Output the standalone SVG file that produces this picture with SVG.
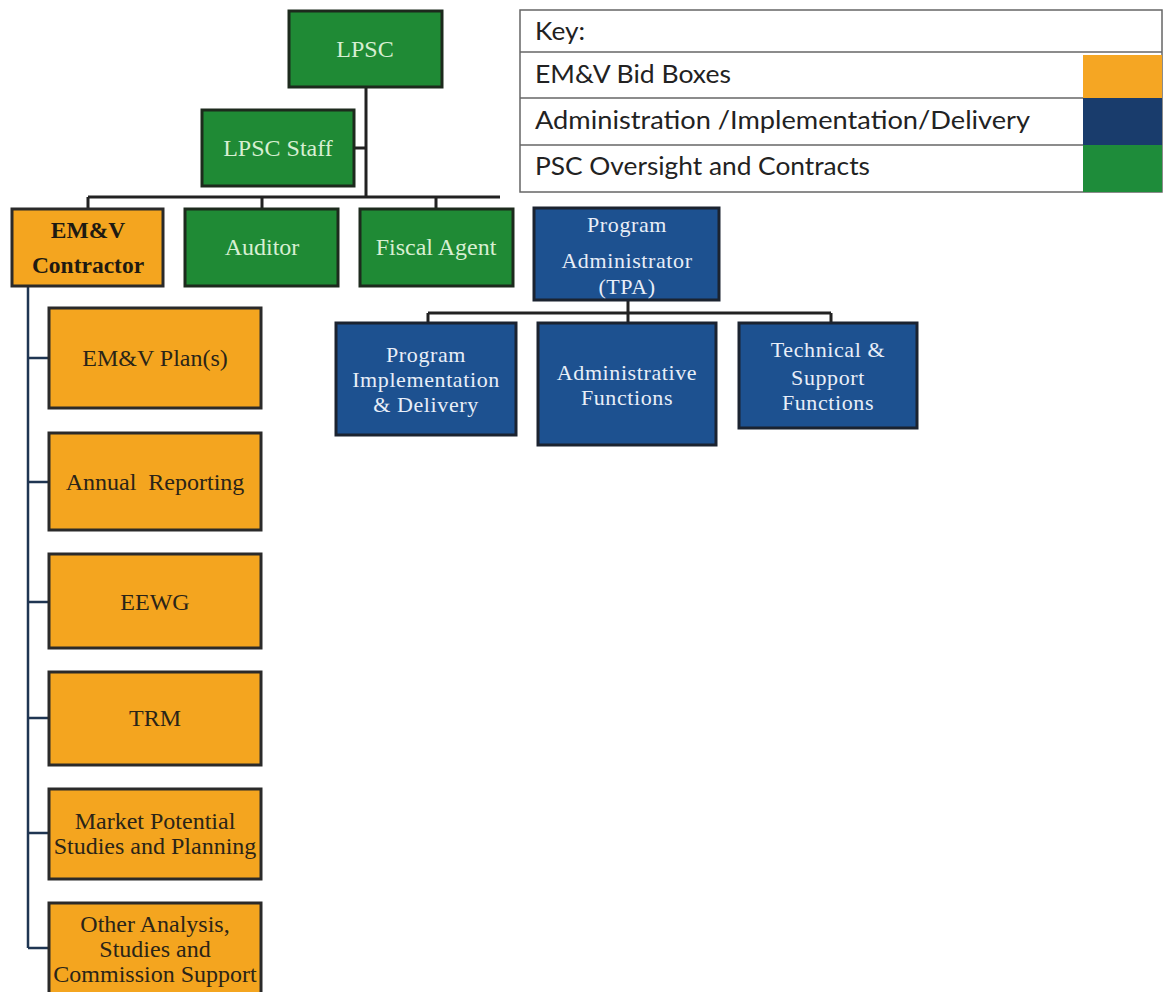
<svg xmlns="http://www.w3.org/2000/svg" width="1169" height="992" viewBox="0 0 1169 992">
<style>
.g{fill:#1f8a35;stroke:#1d2a1d;stroke-width:3}
.o{fill:#f4a51f;stroke:#2a2a2a;stroke-width:3}
.b{fill:#1d5190;stroke:#1b2330;stroke-width:3}
.tg{font-family:"Liberation Serif",serif;font-size:24px;fill:#d7efd2;text-anchor:middle}
.tb{font-family:"Liberation Serif",serif;font-size:22px;fill:#e8eef8;text-anchor:middle;letter-spacing:0.6px}
.to{font-family:"Liberation Serif",serif;font-size:24px;fill:#2a2418;text-anchor:middle}
.tob{font-family:"Liberation Serif",serif;font-size:23.5px;font-weight:bold;fill:#1e1a12;text-anchor:middle}
.k{font-family:Lato,"Open Sans",sans-serif;font-size:25px;fill:#222}
.kr{fill:#fff;stroke:#666;stroke-width:1.5}
.c{fill:none;stroke:#222;stroke-width:3}
.cl{fill:none;stroke:#1f3552;stroke-width:2.5}
</style>
<rect width="1169" height="992" fill="#fff"/>
<g id="connectors">
<path class="c" d="M366 87V197M354 148H366M88 197H500M88 197V209M262 197V209M436 197V209"/>
<path class="c" d="M628 300V313M428 313H831M428 313V323M628 313V323M831 313V323"/>
<path class="cl" d="M28 286V948M28 358H49M28 482H49M28 602H49M28 718H49M28 833H49M28 948H49"/>
</g>
<g id="key">
<rect class="kr" x="520" y="10" width="642" height="182"/>
<line x1="520" y1="52" x2="1162" y2="52" stroke="#666" stroke-width="1.5"/>
<line x1="520" y1="98" x2="1083" y2="98" stroke="#666" stroke-width="1.5"/>
<line x1="520" y1="145" x2="1083" y2="145" stroke="#666" stroke-width="1.5"/>
<rect x="1083" y="55" width="79" height="43" fill="#f5a623"/>
<rect x="1083" y="98" width="79" height="47" fill="#193c6c"/>
<rect x="1083" y="145" width="79" height="47" fill="#1e8c3a"/>
<text class="k" x="535" y="40" textLength="50" lengthAdjust="spacingAndGlyphs">Key:</text>
<text class="k" x="535" y="83" textLength="196" lengthAdjust="spacingAndGlyphs">EM&amp;V Bid Boxes</text>
<text class="k" x="535" y="129" textLength="495" lengthAdjust="spacingAndGlyphs">Administration /Implementation/Delivery</text>
<text class="k" x="535" y="175" textLength="335" lengthAdjust="spacingAndGlyphs">PSC Oversight and Contracts</text>
</g>
<g id="lpsc"><rect class="g" x="289" y="11" width="153" height="76"/><text class="tg" x="365" y="57">LPSC</text></g>
<g id="lpsc-staff"><rect class="g" x="202" y="110" width="152" height="76"/><text class="tg" x="278" y="156">LPSC Staff</text></g>
<g id="emv-contractor"><rect class="o" x="12" y="209" width="151" height="77"/><text class="tob" x="88" y="238">EM&amp;V</text><text class="tob" x="88" y="273">Contractor</text></g>
<g id="auditor"><rect class="g" x="185" y="209" width="153" height="77"/><text class="tg" x="262" y="255">Auditor</text></g>
<g id="fiscal-agent"><rect class="g" x="360" y="209" width="153" height="77"/><text class="tg" x="436" y="255">Fiscal Agent</text></g>
<g id="program-administrator"><rect class="b" x="534" y="208" width="185" height="92"/><text class="tb" x="627" y="232">Program</text><text class="tb" x="627" y="268">Administrator</text><text class="tb" x="627" y="294">(TPA)</text></g>
<g id="program-implementation"><rect class="b" x="336" y="323" width="180" height="112"/><text class="tb" x="426" y="362">Program</text><text class="tb" x="426" y="387">Implementation</text><text class="tb" x="426" y="412">&amp; Delivery</text></g>
<g id="administrative-functions"><rect class="b" x="538" y="323" width="178" height="122"/><text class="tb" x="627" y="380">Administrative</text><text class="tb" x="627" y="405">Functions</text></g>
<g id="technical-support"><rect class="b" x="739" y="323" width="178" height="105"/><text class="tb" x="828" y="357">Technical &amp;</text><text class="tb" x="828" y="385">Support</text><text class="tb" x="828" y="410">Functions</text></g>
<g id="emv-plans"><rect class="o" x="49" y="308" width="212" height="100"/><text class="to" x="155" y="366">EM&amp;V Plan(s)</text></g>
<g id="annual-reporting"><rect class="o" x="49" y="433" width="212" height="97"/><text class="to" x="155" y="490" xml:space="preserve">Annual  Reporting</text></g>
<g id="eewg"><rect class="o" x="49" y="554" width="212" height="94"/><text class="to" x="155" y="610">EEWG</text></g>
<g id="trm"><rect class="o" x="49" y="672" width="212" height="93"/><text class="to" x="155" y="726">TRM</text></g>
<g id="market-potential"><rect class="o" x="49" y="789" width="212" height="90"/><text class="to" x="155" y="829">Market Potential</text><text class="to" x="155" y="854">Studies and Planning</text></g>
<g id="other-analysis"><rect class="o" x="49" y="903" width="212" height="92"/><text class="to" x="155" y="932">Other Analysis,</text><text class="to" x="155" y="957">Studies and</text><text class="to" x="155" y="982">Commission Support</text></g>
</svg>
